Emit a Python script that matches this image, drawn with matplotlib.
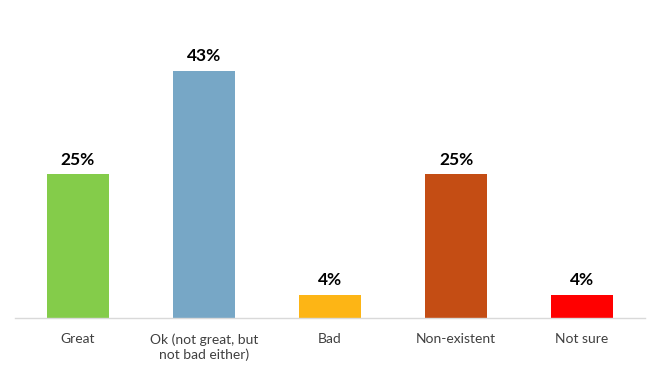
import matplotlib.pyplot as plt

categories = ["Great", "Ok (not great, but\nnot bad either)", "Bad", "Non-existent", "Not sure"]
values = [25, 43, 4, 25, 4]
colors = ["#84CC4A", "#77A7C6", "#FDB515", "#C44D14", "#FF0000"]

plt.rcParams['font.family'] = ['Lato', 'DejaVu Sans']

fig = plt.figure(figsize=(6.63, 3.71), dpi=100)
ax = fig.add_axes([0.0226, 0.143, 0.9504, 0.857])

x = range(len(categories))
bars = ax.bar(x, values, width=0.49, color=colors)

# bold percentage labels above each bar
for b, v in zip(bars, values):
    ax.text(b.get_x() + b.get_width() / 2, v + 1.2, f"{v}%",
            ha='center', va='bottom', fontsize=12.5, fontweight='bold', color='black')

ax.set_xlim(-0.5, 4.5)
ax.set_ylim(0, 55.4)
ax.set_xticks(list(x))
ax.set_xticklabels(categories, fontsize=10, color='#404040', linespacing=1.3, va='top')
ax.tick_params(axis='x', length=0, pad=11)
ax.set_yticks([])
for s in ['top', 'right', 'left']:
    ax.spines[s].set_visible(False)
ax.spines['bottom'].set_color('#D9D9D9')
ax.spines['bottom'].set_linewidth(1)

fig.savefig("out.png", dpi=100)
